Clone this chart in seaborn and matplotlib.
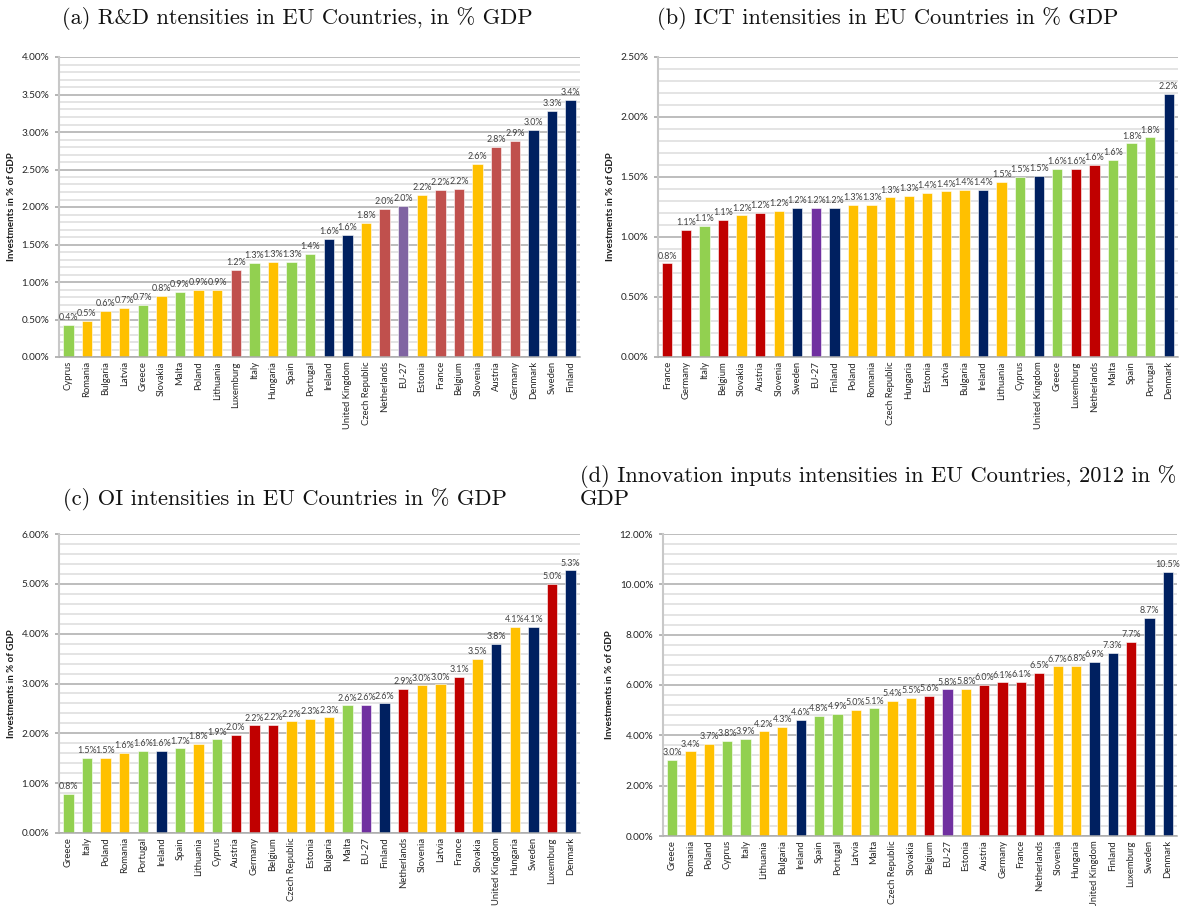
import matplotlib
matplotlib.use("Agg")
import matplotlib.pyplot as plt
import seaborn as sns
from matplotlib.ticker import MultipleLocator, FuncFormatter

sns.set_theme(style="white")
plt.rcParams['font.family'] = ['Lato', 'DejaVu Sans']

# ---------------- data ----------------
rd_countries = ["Cyprus", "Romania", "Bulgaria", "Latvia", "Greece", "Slovakia", "Malta", "Poland",
                "Lithuania", "Luxemburg", "Italy", "Hungaria", "Spain", "Portugal", "Ireland",
                "United Kingdom", "Czech Republic", "Netherlands", "EU-27", "Estonia", "France",
                "Belgium", "Slovenia", "Austria", "Germany", "Denmark", "Sweden", "Finland"]
rd_values = [0.43, 0.48, 0.62, 0.66, 0.69, 0.81, 0.87, 0.89, 0.90, 1.16, 1.26, 1.27, 1.27, 1.37,
             1.58, 1.63, 1.79, 1.97, 2.01, 2.16, 2.23, 2.24, 2.58, 2.80, 2.88, 3.03, 3.28, 3.43]
rd_groups = ["G", "Y", "Y", "Y", "G", "Y", "G", "Y", "Y", "R", "G", "Y", "G", "G", "N", "N", "Y",
             "R", "P", "Y", "R", "R", "Y", "R", "R", "N", "N", "N"]

ict_countries = ["France", "Germany", "Italy", "Belgium", "Slovakia", "Austria", "Slovenia", "Sweden",
                 "EU-27", "Finland", "Poland", "Romania", "Czech Republic", "Hungaria", "Estonia",
                 "Latvia", "Bulgaria", "Ireland", "Lithuania", "Cyprus", "United Kingdom", "Greece",
                 "Luxemburg", "Netherlands", "Malta", "Spain", "Portugal", "Denmark"]
ict_values = [0.78, 1.06, 1.09, 1.14, 1.18, 1.20, 1.22, 1.24, 1.24, 1.24, 1.27, 1.27, 1.33, 1.34,
              1.37, 1.38, 1.39, 1.39, 1.46, 1.50, 1.51, 1.57, 1.57, 1.60, 1.64, 1.78, 1.83, 2.19]
ict_groups = ["R", "R", "G", "R", "Y", "R", "Y", "N", "P", "N", "Y", "Y", "Y", "Y", "Y", "Y", "Y",
              "N", "Y", "G", "N", "G", "R", "R", "G", "G", "G", "N"]

oi_countries = ["Greece", "Italy", "Poland", "Romania", "Portugal", "Ireland", "Spain", "Lithuania",
                "Cyprus", "Austria", "Germany", "Belgium", "Czech Republic", "Estonia", "Bulgaria",
                "Malta", "EU-27", "Finland", "Netherlands", "Slovenia", "Latvia", "France", "Slovakia",
                "United Kingdom", "Hungaria", "Sweden", "Luxemburg", "Denmark"]
oi_values = [0.78, 1.50, 1.51, 1.61, 1.64, 1.64, 1.70, 1.79, 1.88, 1.97, 2.16, 2.17, 2.24, 2.29,
             2.32, 2.56, 2.57, 2.60, 2.89, 2.96, 2.98, 3.14, 3.49, 3.80, 4.14, 4.14, 5.00, 5.27]
oi_groups = ["G", "G", "Y", "Y", "G", "N", "G", "Y", "G", "R", "R", "R", "Y", "Y", "Y", "G", "P",
             "N", "R", "Y", "Y", "R", "Y", "N", "Y", "N", "R", "N"]

inn_countries = ["Greece", "Romania", "Poland", "Cyprus", "Italy", "Lithuania", "Bulgaria", "Ireland",
                 "Spain", "Portugal", "Latvia", "Malta", "Czech Republic", "Slovakia", "Belgium",
                 "EU-27", "Estonia", "Austria", "Germany", "France", "Netherlands", "Slovenia",
                 "Hungaria", "United Kingdom", "Finland", "Luxemburg", "Sweden", "Denmark"]
inn_values = [3.03, 3.36, 3.66, 3.79, 3.86, 4.16, 4.33, 4.62, 4.76, 4.86, 5.02, 5.07, 5.37, 5.48,
              5.56, 5.83, 5.84, 6.00, 6.10, 6.13, 6.48, 6.74, 6.76, 6.93, 7.27, 7.72, 8.67, 10.49]
inn_groups = ["G", "Y", "Y", "G", "G", "Y", "Y", "N", "G", "G", "Y", "G", "Y", "Y", "R", "P", "Y",
              "R", "R", "R", "R", "Y", "Y", "N", "N", "R", "N", "N"]

titles = ["(a) R&D ntensities in EU Countries, in % GDP",
          "(b) ICT intensities in EU Countries in % GDP",
          "(c) OI intensities in EU Countries in % GDP",
          "(d) Innovation inputs intensities in EU Countries, 2012 in %\nGDP"]
ylabel = "Investments in % of GDP"

COLORS = {"G": "#92D050", "Y": "#FFC000", "N": "#002060", "R": "#C00000", "P": "#7030A0"}
COLORS_A = dict(COLORS, R="#C0504D", P="#8064A2")

W, H = 1188, 906
fig = plt.figure(figsize=(W / 100, H / 100), dpi=100)
fig.patch.set_facecolor("white")


def rect(l, t, r, b):
    return [l / W, 1 - b / H, (r - l) / W, (b - t) / H]


def panel(box, countries, values, groups, cmap, ymax, major, minor):
    ax = fig.add_axes(rect(*box))
    pal = [cmap[g] for g in groups]
    sns.barplot(x=countries, y=values, hue=countries, palette=pal, legend=False,
                width=0.56, saturation=1, ax=ax, edgecolor="white", linewidth=0.4)
    for cont in ax.containers:
        ax.bar_label(cont, fmt="{:.1f}%", padding=2, fontsize=6.4, color="#404040")
    ax.set_xlim(-0.5, len(countries) - 0.5)
    ax.set_ylim(0, ymax)
    ax.yaxis.set_major_locator(MultipleLocator(major))
    ax.yaxis.set_minor_locator(MultipleLocator(minor))
    ax.yaxis.set_major_formatter(FuncFormatter(lambda v, p: f"{v:.2f}%"))
    ax.grid(which="major", axis="y", color="#ABABAB", lw=1.1)
    ax.grid(which="minor", axis="y", color="#DCDCDC", lw=1.1)
    ax.set_axisbelow(True)
    for s in ["top", "right"]:
        ax.spines[s].set_visible(False)
    ax.spines["left"].set_color("#C8C8C8")
    ax.spines["left"].set_linewidth(1.5)
    ax.spines["bottom"].set_color("#ABABAB")
    ax.spines["bottom"].set_linewidth(1.1)
    ax.tick_params(axis="y", which="major", length=3, color="#ABABAB", labelsize=7.2,
                   labelcolor="#262626", pad=4, left=True)
    ax.tick_params(axis="y", which="minor", length=0)
    ax.tick_params(axis="x", length=0, labelsize=6.8, labelcolor="#262626", rotation=90, pad=3)
    ax.set_xlabel("")
    ax.set_ylabel(ylabel, fontsize=7, fontweight="bold", color="#1a1a1a", labelpad=4)
    return ax


panel((59, 57, 580, 357), rd_countries, rd_values, rd_groups, COLORS_A, 4.0, 0.5, 0.1)
panel((658, 57, 1178, 357), ict_countries, ict_values, ict_groups, COLORS, 2.5, 0.5, 0.1)
panel((59, 534, 580, 833), oi_countries, oi_values, oi_groups, COLORS, 6.0, 1.0, 0.2)
panel((663, 534, 1177, 836), inn_countries, inn_values, inn_groups, COLORS, 12.0, 2.0, 0.4)

tkw = dict(family=["cmr10", "DejaVu Serif"], fontsize=16.2, color="#111111", va="center", ha="left")
fig.text(62 / W, 1 - 18 / H, titles[0], **tkw)
fig.text(657 / W, 1 - 18 / H, titles[1], **tkw)
fig.text(63 / W, 1 - 499 / H, titles[2], **tkw)
fig.text(580 / W, 1 - 487 / H, titles[3], linespacing=1.1, **tkw)

fig.savefig("out.png", dpi=100, facecolor="white")
